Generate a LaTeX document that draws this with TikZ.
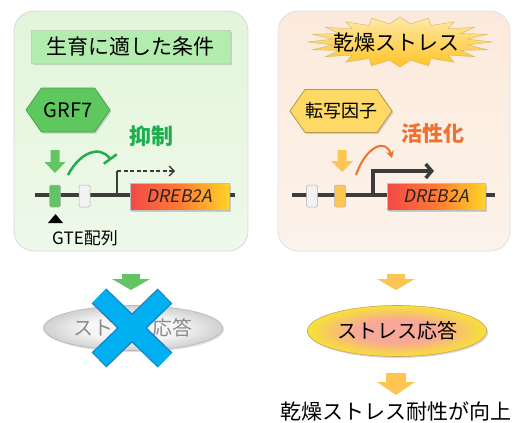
\documentclass[tikz,border=0pt]{standalone}
\usepackage{fontspec}
\setmainfont{Noto Sans CJK JP}
\newfontfamily\itjp[FakeSlant=0.2]{Noto Sans CJK JP}
\usetikzlibrary{shapes.symbols,shapes.geometric,shadows,arrows.meta,calc}
\definecolor{pgreen}{HTML}{E2F5DA}
\definecolor{pgreenb}{HTML}{EEF9EA}
\definecolor{ppeach}{HTML}{FBEADC}
\definecolor{ppeachb}{HTML}{FDF3EB}
\definecolor{tgreen}{HTML}{B2ECAE}
\definecolor{hgreen}{HTML}{5EC85E}
\definecolor{hyellow}{HTML}{FFD966}
\definecolor{agreen}{HTML}{62C462}
\definecolor{ayellow}{HTML}{FFC552}
\definecolor{kgreen}{HTML}{1EAE4E}
\definecolor{korange}{HTML}{F07030}
\definecolor{dna}{HTML}{3C3C3C}
\definecolor{xblue}{HTML}{00B0F0}
\definecolor{xblueb}{HTML}{1A86C8}
\definecolor{pinkc}{HTML}{F8A898}
\definecolor{yellc}{HTML}{F6E236}
\definecolor{grayin}{HTML}{F6F6F6}
\definecolor{grayout}{HTML}{D0D0D0}
\pgfdeclareradialshading{pinky}{\pgfpoint{0bp}{0bp}}{color(0bp)=(pinkc); color(11bp)=(pinkc); color(25bp)=(yellc); color(50bp)=(yellc)}
\pgfdeclareradialshading{grayish}{\pgfpoint{0bp}{0bp}}{color(0bp)=(grayin); color(13bp)=(grayin); color(25bp)=(grayout); color(50bp)=(grayout)}
\newcommand\darr[7]{\fill[#7] (#1-#5,#2) -- (#1+#5,#2) -- (#1+#5,#3) -- (#1+#6,#3) -- (#1,#4) -- (#1-#6,#3) -- (#1-#5,#3) -- cycle;}
\tikzset{
  panel/.style={rectangle, rounded corners=20pt, draw=#1, line width=0.8pt, inner sep=0pt},
  hexa/.style={signal, signal to=east and west, signal pointer angle=110, draw=#1, line width=0.8pt, inner sep=0pt, drop shadow={opacity=0.3, shadow xshift=1.5pt, shadow yshift=-1.5pt}},
  genebox/.style={rectangle, inner sep=0pt, minimum width=99pt, minimum height=27pt, draw=black!25, line width=0.5pt, left color={red!70!white!95!black}, right color={orange!40!yellow!85!white}, middle color={orange!70!red!80!white}, drop shadow={opacity=0.35, shadow xshift=1.5pt, shadow yshift=-1.5pt}, text=black!85},
  elem/.style={rectangle, rounded corners=1.5pt, inner sep=0pt, minimum width=11pt, minimum height=22pt, draw=black!30, line width=0.5pt, fill=#1},
  dnaline/.style={line width=4pt, draw=dna},
  jp/.style={font=\fontsize{#1}{#1}\selectfont},
  jpb/.style={font=\fontsize{#1}{#1}\selectfont\bfseries},
}
\begin{document}
\begin{tikzpicture}[x=1pt,y=-1pt]
\useasboundingbox (0,0) rectangle (515,423);
\fill[white] (0,0) rectangle (515,423);
% panels
\node[panel=black!15, minimum width=234pt, minimum height=240pt, top color=pgreen, bottom color=pgreenb] (lp) at (131,131) {};
\node[panel=black!12, minimum width=232pt, minimum height=240pt, top color=ppeach, bottom color=ppeachb] (rp) at (394,131) {};
% left title
\node[rectangle, fill=tgreen, draw=tgreen!80!black!60, line width=0.5pt, minimum width=199pt, minimum height=33pt, inner sep=0pt, jp=21, drop shadow={opacity=0.3, shadow xshift=1.5pt, shadow yshift=-1.5pt}] (lt) at (130.5,46.5) {生育に適した条件};
% right starburst
\shade[top color={yellow!50!orange!35!white}, bottom color={orange!55!yellow!85}, draw={orange!50!yellow!70!black!60}, line width=0.4pt]
  (492,42) \foreach \i [evaluate=\i as \a using \i*9, evaluate=\i as \f using {mod(\i,2)==0 ? 1 : 0.74}] in {1,...,39} { -- ({400+92*\f*cos(\a)},{42+25*\f*sin(\a)}) } -- cycle;
\node[jp=21] (rt) at (396,43) {乾燥ストレス};
% hexagons
\node[hexa=hgreen!80!black, fill=hgreen, minimum width=84pt, minimum height=44pt, jp=20] (grf) at (68,110) {GRF7};
\node[hexa=hyellow!70!black, fill=hyellow, minimum width=92pt, minimum height=43pt, jp=18] (tf) at (341,111) {転写因子};
% labels
\node[jpb=22, text=kgreen] (yoku) at (151,136) {抑制};
\node[jpb=21, text=korange] (kas) at (433,133) {活性化};
% small arrows
\darr{55}{150}{162}{173}{4.5}{10.5}{agreen}
\darr{342}{150}{161}{172}{4.5}{11}{ayellow}
% DNA lines
\coordinate (la) at (35,195); \coordinate (lb) at (235,195);
\coordinate (ra) at (292,195); \coordinate (rb) at (495,195);
\draw[dnaline] (la) -- (lb);
\draw[dnaline] (ra) -- (rb);
% elements
\node[elem=agreen] (gte) at (55,196) {};
\node[elem=black!5] (wl) at (84.5,196) {};
\node[elem=black!5] (wr) at (312,196) {};
\node[elem=ayellow] (yr) at (340,196) {};
% transcription arrows
\coordinate (lt0) at (117,195); \coordinate (lt1) at (117,171); \coordinate (lt2) at (175,171);
\draw[line width=1.3pt, draw=dna] (lt0) -- (lt1);
\draw[line width=1.3pt, draw=dna, dashed, dash pattern=on 4pt off 2.5pt, -{Straight Barb[length=5pt,width=10pt,line width=1.3pt]}] (lt1) -- (lt2);
\coordinate (rt0) at (373,195); \coordinate (rt1) at (373,171); \coordinate (rt2) at (434,171);
\draw[line width=3.5pt, draw=dna, -{Straight Barb[length=6pt,width=14pt,line width=3.5pt]}] (rt0) -- (rt1) -- (rt2);
% gene boxes
\node[genebox] (lg) at (179.5,196.5) {\itjp\fontsize{17.5}{17.5}\selectfont DREB2A};
\node[genebox, minimum width=98pt] (rg) at (436,196.5) {\itjp\fontsize{17.5}{17.5}\selectfont DREB2A};
% inhibition curve
\coordinate (ic0) at (68,175); \coordinate (ic1) at (111,160);
\draw[kgreen, line width=2.5pt, -{Bar[width=16pt,line width=2.5pt]}] (ic0) .. controls (80,152) and (100,145) .. (ic1);
% activation curve
\coordinate (ac0) at (356,175); \coordinate (ac1) at (392,158);
\draw[korange, line width=2pt, -{Stealth[length=7pt,width=8pt]}] (ac0) .. controls (366,146) and (386,138) .. (ac1);
% GTE marker
\fill (48,223) -- (55.5,214) -- (63,223) -- cycle;
\node[jp=17] (gtel) at (85,238) {GTE配列};
% bottom left
\darr{131}{274}{279}{290}{9}{19}{agreen}
\node[ellipse, minimum width=147pt, minimum height=45pt, shading=grayish, draw=black!28, line width=0.6pt, text=black!45, jp=20, drop shadow={opacity=0.25, shadow xshift=1.5pt, shadow yshift=-1.5pt}] (lr) at (133,328) {ストレス応答};
\coordinate (x1) at (99,296); \coordinate (x2) at (165,360);
\coordinate (x3) at (165,296); \coordinate (x4) at (99,360);
\draw[xblueb, line width=21pt] (x1) -- (x2) (x3) -- (x4);
\draw[xblue, line width=18pt, shorten <=1.2pt, shorten >=1.2pt] (x1) -- (x2) (x3) -- (x4);
% bottom right
\darr{396}{274}{279}{290}{9}{19}{ayellow}
\node[ellipse, minimum width=148pt, minimum height=51pt, shading=pinky, draw=orange!70!black!60, line width=0.6pt, jp=20, drop shadow={opacity=0.3, shadow xshift=1.5pt, shadow yshift=-1.5pt}] (rr) at (397,331) {ストレス応答};
\darr{396}{373}{382}{395}{10}{19}{ayellow}
\node[jp=21] (fin) at (396,411) {乾燥ストレス耐性が向上};
\end{tikzpicture}
\end{document}
